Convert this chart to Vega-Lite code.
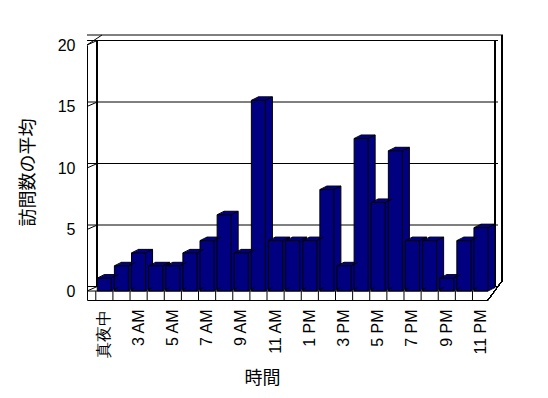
{
  "$schema": "https://vega.github.io/schema/vega-lite/v6.json",
  "width": 401,
  "height": 255,
  "autosize": "none",
  "padding": {"left": 87, "top": 45, "right": 60, "bottom": 98},
  "background": "white",
  "config": {"view": {"stroke": null}},
  "data": {
    "values": [
      {"hour": "真夜中", "avg": 1.05},
      {"hour": "2 AM", "avg": 2.05},
      {"hour": "3 AM", "avg": 3.1},
      {"hour": "4 AM", "avg": 2.05},
      {"hour": "5 AM", "avg": 2.05},
      {"hour": "6 AM", "avg": 3.1},
      {"hour": "7 AM", "avg": 4.1},
      {"hour": "8 AM", "avg": 6.2},
      {"hour": "9 AM", "avg": 3.1},
      {"hour": "10 AM", "avg": 15.5},
      {"hour": "11 AM", "avg": 4.1},
      {"hour": "正午", "avg": 4.1},
      {"hour": "1 PM", "avg": 4.1},
      {"hour": "2 PM", "avg": 8.25},
      {"hour": "3 PM", "avg": 2.05},
      {"hour": "4 PM", "avg": 12.4},
      {"hour": "5 PM", "avg": 7.2},
      {"hour": "6 PM", "avg": 11.4},
      {"hour": "7 PM", "avg": 4.1},
      {"hour": "8 PM", "avg": 4.1},
      {"hour": "9 PM", "avg": 1.05},
      {"hour": "10 PM", "avg": 4.1},
      {"hour": "11 PM", "avg": 5.15}
    ]
  },
  "encoding": {
    "x": {
      "field": "hour",
      "type": "nominal",
      "sort": null,
      "scale": {
        "domain": ["真夜中", "2 AM", "3 AM", "4 AM", "5 AM", "6 AM", "7 AM", "8 AM", "9 AM", "10 AM", "11 AM", "正午", "1 PM", "2 PM", "3 PM", "4 PM", "5 PM", "6 PM", "7 PM", "8 PM", "9 PM", "10 PM", "11 PM"],
        "paddingInner": 0.18, "paddingOuter": 0.3, "align": 1
      },
      "axis": {
        "title": "時間",
        "values": ["真夜中", "3 AM", "5 AM", "7 AM", "9 AM", "11 AM", "1 PM", "3 PM", "5 PM", "7 PM", "9 PM", "11 PM"],
        "labelAngle": -90,
        "labelFont": "Liberation Sans",
        "labelFontSize": 16,
        "labelColor": "black",
        "labelPadding": 9,
        "ticks": false,
        "domainColor": "black",
        "titleFont": "Noto Sans CJK JP",
        "titleFontSize": 18,
        "titleFontWeight": "normal",
        "titleColor": "black",
        "titleX": 175,
        "titleY": 78,
        "titleBaseline": "middle"
      }
    }
  },
  "layer": [
    {
      "data": {"values": [{"v": 0}, {"v": 5}, {"v": 10}, {"v": 15}, {"v": 20}]},
      "mark": {"type": "rule", "color": "black", "strokeWidth": 1, "xOffset": 10, "x2Offset": 7, "yOffset": -4.5},
      "encoding": {"x": null, "y": {"field": "v", "type": "quantitative"}}
    },
    {
      "data": {"values": [{"v": 0}, {"v": 5}, {"v": 10}, {"v": 15}, {"v": 20}]},
      "mark": {"type": "rule", "color": "black", "strokeWidth": 1, "xOffset": -10.3, "x2Offset": 0, "y2Offset": -4.5},
      "encoding": {
        "x": {"datum": "真夜中", "bandPosition": 0},
        "x2": {"datum": "真夜中", "bandPosition": 0},
        "y": {"field": "v", "type": "quantitative"},
        "y2": {"field": "v"}
      }
    },
    {
      "data": {"values": [{"v": 20}]},
      "mark": {"type": "rule", "color": "black", "strokeWidth": 1, "xOffset": 15, "x2Offset": 15, "yOffset": -10},
      "encoding": {"x": null, "y": {"field": "v", "type": "quantitative"}}
    },
    {
      "data": {"values": [{"v": 20}]},
      "mark": {"type": "rule", "color": "black", "strokeWidth": 1, "xOffset": -10.3, "x2Offset": 4.7, "y2Offset": -10},
      "encoding": {
        "x": {"datum": "真夜中", "bandPosition": 0},
        "x2": {"datum": "真夜中", "bandPosition": 0},
        "y": {"field": "v", "type": "quantitative"},
        "y2": {"field": "v"}
      }
    },
    {
      "mark": {"type": "rule", "color": "black", "strokeWidth": 1, "yOffset": -4.5, "y2Offset": -4.5},
      "encoding": {"x": {"datum": "真夜中", "bandPosition": 0}, "y": {"datum": 20}, "y2": {"datum": 0}}
    },
    {
      "mark": {"type": "rule", "color": "black", "strokeWidth": 1, "xOffset": 7, "yOffset": -4.5, "y2Offset": -4.5},
      "encoding": {"x": {"datum": "11 PM", "bandPosition": 1}, "y": {"datum": 20}, "y2": {"datum": 0}}
    },
    {
      "mark": {"type": "rule", "color": "black", "strokeWidth": 1, "xOffset": 14, "yOffset": -10, "y2Offset": -10},
      "encoding": {"x": {"datum": "11 PM", "bandPosition": 1}, "y": {"datum": 20}, "y2": {"datum": 0}}
    },
    {
      "mark": {"type": "rule", "color": "black", "strokeWidth": 1, "xOffset": 0, "x2Offset": 14, "y2Offset": -10},
      "encoding": {
        "x": {"datum": "11 PM", "bandPosition": 1},
        "x2": {"datum": "11 PM", "bandPosition": 1},
        "y": {"datum": -0.73},
        "y2": {"datum": 0}
      }
    },
    {
      "data": {"values": [{"v": 0}]},
      "mark": {"type": "rule", "color": "black", "strokeWidth": 1},
      "encoding": {"x": null, "y": {"field": "v", "type": "quantitative"}}
    },
    {
      "mark": {"type": "rule", "color": "black", "strokeWidth": 1, "xOffset": -8.5},
      "encoding": {"y": {"datum": 0}, "y2": {"datum": -0.73}}
    },
    {
      "mark": {"type": "bar", "fill": "#000080", "stroke": "black", "strokeWidth": 1, "xOffset": 7, "yOffset": -3.5, "y2Offset": -3.5},
      "encoding": {"y": {"field": "avg", "type": "quantitative"}}
    },
    {
      "mark": {"type": "bar", "fill": "#000080", "xOffset": 6, "yOffset": -3, "y2Offset": -3},
      "encoding": {"y": {"field": "avg", "type": "quantitative"}}
    },
    {
      "mark": {"type": "bar", "fill": "#000080", "xOffset": 5, "yOffset": -2.5, "y2Offset": -2.5},
      "encoding": {"y": {"field": "avg", "type": "quantitative"}}
    },
    {
      "mark": {"type": "bar", "fill": "#000080", "xOffset": 4, "yOffset": -2, "y2Offset": -2},
      "encoding": {"y": {"field": "avg", "type": "quantitative"}}
    },
    {
      "mark": {"type": "bar", "fill": "#000080", "xOffset": 3, "yOffset": -1.5, "y2Offset": -1.5},
      "encoding": {"y": {"field": "avg", "type": "quantitative"}}
    },
    {
      "mark": {"type": "bar", "fill": "#000080", "xOffset": 2, "yOffset": -1, "y2Offset": -1},
      "encoding": {"y": {"field": "avg", "type": "quantitative"}}
    },
    {
      "mark": {"type": "bar", "fill": "#000080", "xOffset": 1, "yOffset": -0.5, "y2Offset": -0.5},
      "encoding": {"y": {"field": "avg", "type": "quantitative"}}
    },
    {
      "mark": {"type": "bar", "fill": "#000080", "stroke": "black", "strokeWidth": 1},
      "encoding": {
        "y": {
          "field": "avg",
          "type": "quantitative",
          "scale": {"domain": [-0.73, 20], "nice": false, "zero": false},
          "axis": {
            "title": "訪問数の平均",
            "values": [0, 5, 10, 15, 20],
            "grid": false,
            "ticks": false,
            "labelFont": "Liberation Sans",
            "labelFontSize": 16,
            "labelColor": "black",
            "labelPadding": 12,
            "domainColor": "black",
            "titleFont": "Noto Sans CJK JP",
            "titleFontSize": 18,
            "titleFontWeight": "normal",
            "titleColor": "black",
            "titleX": -59,
            "titleY": 127,
            "titleAngle": -90,
            "titleAlign": "center",
            "titleBaseline": "middle"
          }
        }
      }
    },
    {
      "mark": {"type": "rule", "color": "black", "strokeWidth": 1, "xOffset": -7, "x2Offset": 0, "y2Offset": -3.5},
      "encoding": {"x2": {"field": "hour"}, "y": {"field": "avg", "type": "quantitative"}, "y2": {"field": "avg"}}
    },
    {
      "mark": {"type": "rule", "color": "black", "strokeWidth": 1, "xOffset": 7, "x2Offset": 14, "y2Offset": -3.5},
      "encoding": {"x2": {"field": "hour"}, "y": {"field": "avg", "type": "quantitative"}, "y2": {"field": "avg"}}
    },
    {
      "mark": {"type": "rule", "color": "black", "strokeWidth": 1, "xOffset": 7, "x2Offset": 14, "y2Offset": -3.5},
      "encoding": {"x2": {"field": "hour"}, "y": {"datum": 0}, "y2": {"datum": 0}}
    }
  ]
}
